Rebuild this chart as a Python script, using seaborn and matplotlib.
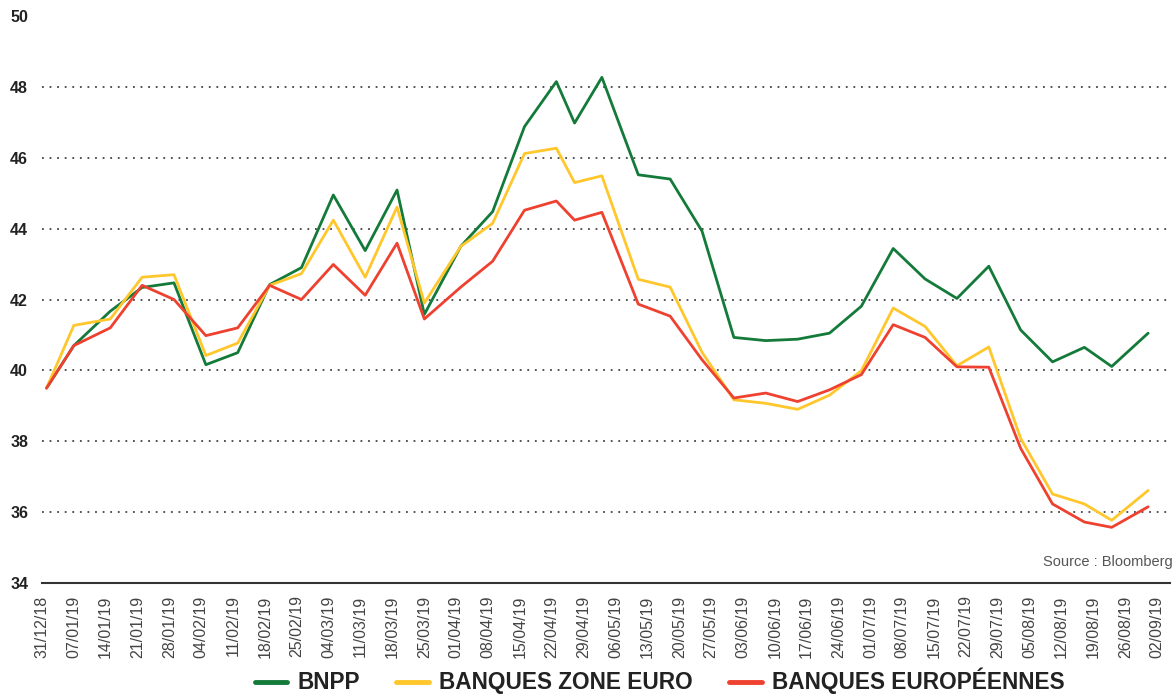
import pandas as pd
import numpy as np
import seaborn as sns
import matplotlib.pyplot as plt
import matplotlib.dates as mdates

dates = ["2019-01-01", "2019-01-07", "2019-01-15", "2019-01-22", "2019-01-29",
         "2019-02-05", "2019-02-12", "2019-02-19", "2019-02-26", "2019-03-05",
         "2019-03-12", "2019-03-19", "2019-03-25", "2019-04-02", "2019-04-09",
         "2019-04-16", "2019-04-23", "2019-04-27", "2019-05-03", "2019-05-11",
         "2019-05-18", "2019-05-25", "2019-06-01", "2019-06-08", "2019-06-15",
         "2019-06-22", "2019-06-29", "2019-07-06", "2019-07-13", "2019-07-20",
         "2019-07-27", "2019-08-03", "2019-08-10", "2019-08-17", "2019-08-23",
         "2019-08-31"]
bnpp = [39.5, 40.7, 41.67, 42.34, 42.47, 40.16, 40.5, 42.42, 42.9, 44.95,
        43.38, 45.09, 41.58, 43.5, 44.48, 46.88, 48.15, 46.98, 48.27, 45.52,
        45.4, 43.93, 40.93, 40.84, 40.88, 41.05, 41.81, 43.44, 42.58, 42.03,
        42.94, 41.14, 40.24, 40.65, 40.11, 41.05]
zone_euro = [39.5, 41.27, 41.45, 42.63, 42.7, 40.42, 40.77, 42.4, 42.73, 44.24,
             42.63, 44.61, 41.9, 43.5, 44.15, 46.12, 46.27, 45.3, 45.49, 42.57,
             42.35, 40.51, 39.17, 39.07, 38.9, 39.3, 39.99, 41.76, 41.24, 40.13,
             40.66, 38.08, 36.51, 36.23, 35.77, 36.61]
europe = [39.5, 40.7, 41.2, 42.4, 42.0, 40.98, 41.2, 42.4, 42.0, 42.99,
          42.12, 43.59, 41.45, 42.35, 43.08, 44.52, 44.78, 44.24, 44.46, 41.87,
          41.53, 40.3, 39.22, 39.36, 39.12, 39.45, 39.88, 41.29, 40.93, 40.1,
          40.09, 37.8, 36.23, 35.72, 35.57, 36.15]

series_names = ["BNPP", "BANQUES ZONE EURO", "BANQUES EUROPÉENNES"]
colors = ["#137A3A", "#FFC72C", "#EE4130"]
yticks = [34, 36, 38, 40, 42, 44, 46, 48, 50]

df = pd.DataFrame({"date": pd.to_datetime(dates), "BNPP": bnpp,
                   "BANQUES ZONE EURO": zone_euro, "BANQUES EUROPÉENNES": europe})
long = df.melt(id_vars="date", var_name="serie", value_name="valeur")

sns.set_style("white")
plt.rcParams["font.family"] = ["Liberation Sans", "DejaVu Sans"]
narrow = ["Liberation Sans Narrow", "Liberation Sans", "DejaVu Sans"]

fig = plt.figure(figsize=(11.76, 6.98), dpi=100)
ax = fig.add_axes([0.0357, 0.1648, 0.9593, 0.8122])

sns.lineplot(data=long, x="date", y="valeur", hue="serie", hue_order=series_names,
             palette=colors, linewidth=2.0, ax=ax)

ax.set_xlim(pd.Timestamp("2018-12-31"), pd.Timestamp("2019-09-04 20:00"))
ax.set_ylim(34, 50)
ax.set_yticks(yticks)
ticks = pd.date_range("2018-12-31", "2019-09-02", freq="7D")
ax.set_xticks(ticks)
ax.xaxis.set_major_formatter(mdates.DateFormatter("%d/%m/%y"))
ax.set_xlabel("")
ax.set_ylabel("")

ax.yaxis.grid(True, linestyle=(0, (1, 3.2)), color="#444444", linewidth=1.3)
ax.xaxis.grid(False)
ax.get_ygridlines()[-1].set_visible(False)
ax.get_ygridlines()[0].set_visible(False)

for s in ["left", "right", "top"]:
    ax.spines[s].set_visible(False)
ax.spines["bottom"].set_color("#333333")
ax.spines["bottom"].set_linewidth(1.5)

ax.tick_params(axis="y", length=0, pad=10, labelsize=11.5, labelcolor="#222222")
ax.tick_params(axis="x", length=5, width=1.2, color="#333333", pad=4,
               labelsize=11.5, labelcolor="#444444", rotation=90)
for lbl in ax.get_yticklabels():
    lbl.set_fontweight("bold")
for lbl in ax.get_xticklabels():
    lbl.set_family(narrow)

ax.text(1.002, 0.037, "Source : Bloomberg", transform=ax.transAxes, ha="right",
        va="center", fontsize=10.5, color="#555555", family=narrow)

handles, labels = ax.get_legend_handles_labels()
ax.get_legend().remove()
for h in handles:
    h.set_linewidth(3.5)
fig.legend(handles, labels, loc="center", bbox_to_anchor=(0.561, 0.024), ncol=3,
           frameon=False, handlelength=1.45, handletextpad=0.45, columnspacing=1.6,
           borderpad=0.1, prop={"weight": "bold", "size": 16.3})
for t in fig.legends[0].get_texts():
    t.set_color("#222222")

fig.savefig("out.png", dpi=100)
